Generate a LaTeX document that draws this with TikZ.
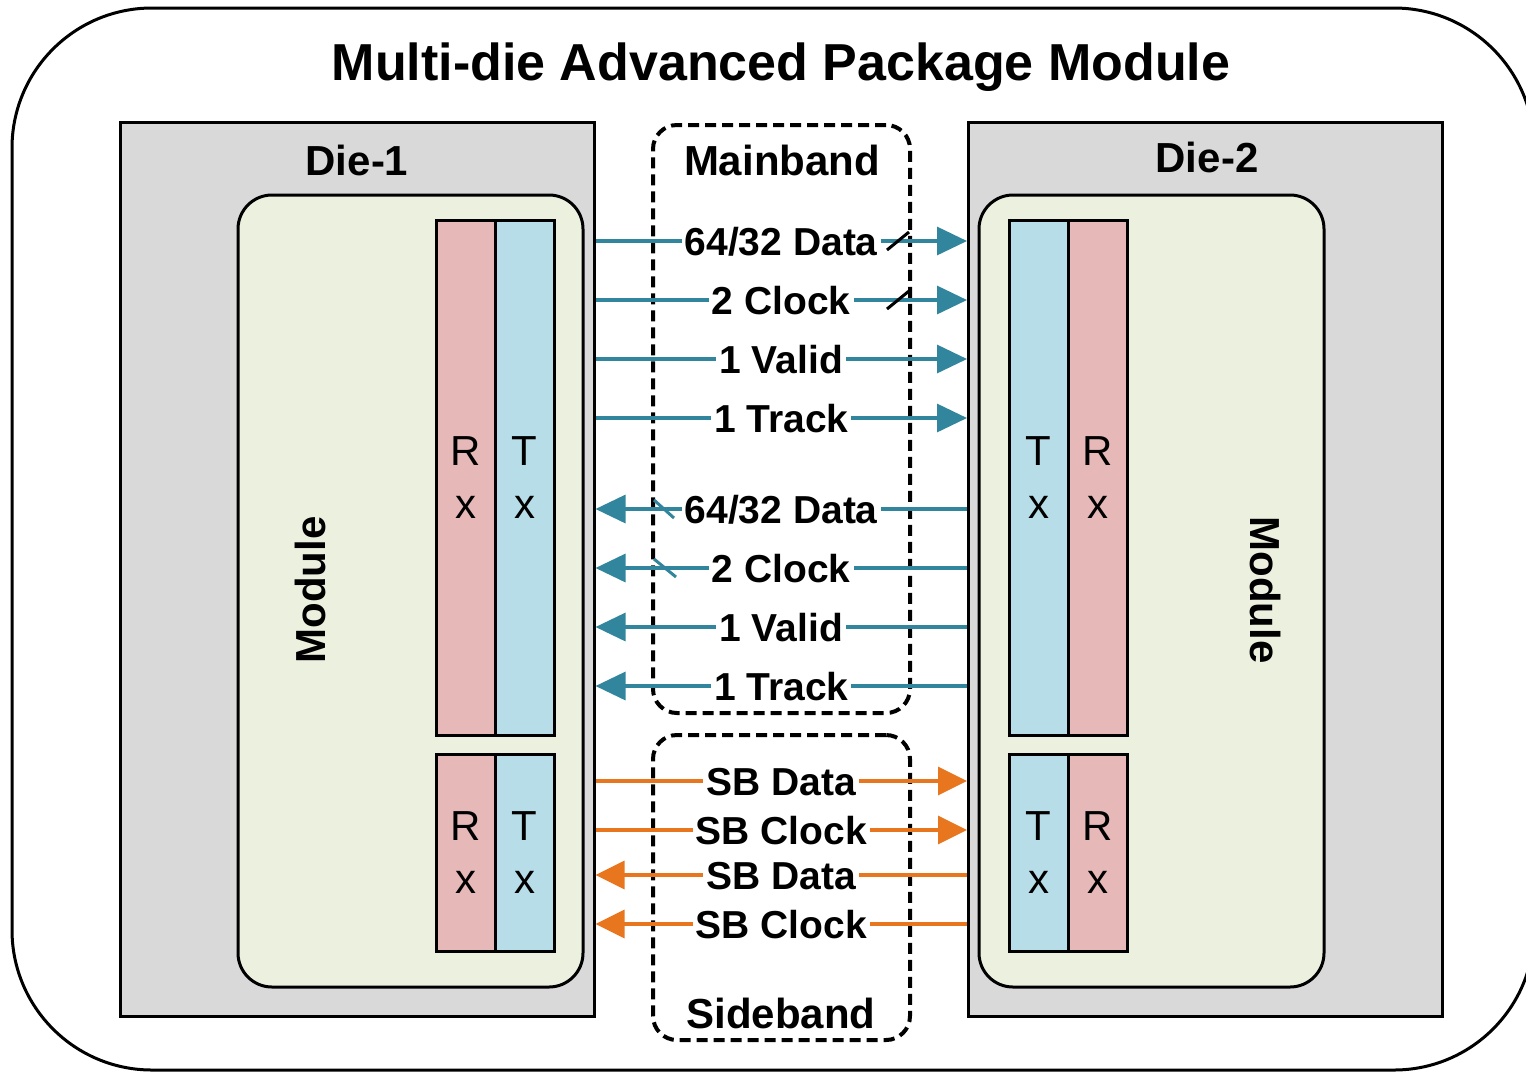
\documentclass[tikz,border=0pt]{standalone}
\usepackage{fontspec}
\setmainfont{Liberation Sans}
\usetikzlibrary{arrows.meta}
\definecolor{dieg}{HTML}{D9D9D9}
\definecolor{modg}{HTML}{EBF1DE}
\definecolor{rxc}{HTML}{E6B9B8}
\definecolor{txc}{HTML}{B7DEE8}
\definecolor{tealc}{HTML}{31859C}
\definecolor{orangec}{HTML}{E8761E}
\begin{document}
\begin{tikzpicture}[x=0.5pt,y=-0.5pt,
  diebox/.style={draw=black,line width=1.5pt,fill=dieg,minimum width=237pt,minimum height=447pt,inner sep=0pt},
  modbox/.style={draw=black,line width=1.5pt,fill=modg,rounded corners=17pt,minimum width=172.5pt,minimum height=396pt,inner sep=0pt},
  rxbox/.style={draw=black,line width=1.5pt,fill=rxc,minimum width=29.5pt,inner sep=0pt,align=center,font=\fontsize{21}{26.5}\selectfont},
  txbox/.style={rxbox,fill=txc},
  bandbox/.style={draw=black,line width=2pt,dash pattern=on 5.5pt off 3pt,rounded corners=12pt,minimum width=128.5pt,inner sep=0pt},
  hdr/.style={font=\bfseries\fontsize{21}{25}\selectfont,inner sep=0pt},
  lbl/.style={font=\bfseries\fontsize{19.5}{22}\selectfont,fill=white,inner xsep=1.5pt,inner ysep=0pt,text height=14pt,text depth=0pt},
  tarrow/.style={draw=tealc,line width=1.6pt,-{Triangle[length=15pt,width=14pt]}},
  oarrow/.style={draw=orangec,line width=1.6pt,-{Triangle[length=14.5pt,width=14pt]}}
]
\useasboundingbox (0,0) rectangle (1526,1073);
% outer package
\draw[line width=1.5pt,rounded corners=70pt] (12,8) rectangle (1534,1070);
\node[inner sep=0pt,font=\bfseries\fontsize{26}{30}\selectfont,text height=18.6pt,text depth=0pt] (title) at (781,62) {Multi-die Advanced Package Module};
% dies
\node[diebox] (die1) at (357,569) {};
\node[diebox] (die2) at (1205.5,569) {};
\node[hdr] (d1lbl) at (357,160) {Die-1};
\node[hdr] (d2lbl) at (1207,157) {Die-2};
% modules
\node[modbox] (mod1) at (410.5,591) {};
\node[modbox] (mod2) at (1151.5,591) {};
\node[hdr,rotate=90] (mod1lbl) at (310,590) {Module};
\node[hdr,rotate=-90] (mod2lbl) at (1265,590) {Module};
% Rx/Tx die 1
\node[rxbox,minimum height=257.5pt] (rx1u) at (465.5,477.5) {R\\x};
\node[txbox,minimum height=257.5pt] (tx1u) at (524.5,477.5) {T\\x};
\node[rxbox,minimum height=98.5pt] (rx1l) at (465.5,852.5) {R\\x};
\node[txbox,minimum height=98.5pt] (tx1l) at (524.5,852.5) {T\\x};
% Rx/Tx die 2
\node[txbox,minimum height=257.5pt] (tx2u) at (1038.5,477.5) {T\\x};
\node[rxbox,minimum height=257.5pt] (rx2u) at (1097.5,477.5) {R\\x};
\node[txbox,minimum height=98.5pt] (tx2l) at (1038.5,852.5) {T\\x};
\node[rxbox,minimum height=98.5pt] (rx2l) at (1097.5,852.5) {R\\x};
% bands
\node[bandbox,minimum height=294pt] (main) at (781.5,419) {};
\node[bandbox,minimum height=152.5pt] (side) at (781.5,887.5) {};
\node[hdr] (mainlbl) at (782,160) {Mainband};
\node[hdr] (sidelbl) at (781,1013) {Sideband};
% mainband arrows die1 -> die2
\draw[tarrow] (die1.east |- 0,241) -- node[lbl] {64/32 Data} (die2.west |- 0,241);
\draw[tarrow] (die1.east |- 0,300) -- node[lbl] {2 Clock} (die2.west |- 0,300);
\draw[tarrow] (die1.east |- 0,359) -- node[lbl] {1 Valid} (die2.west |- 0,359);
\draw[tarrow] (die1.east |- 0,418) -- node[lbl] {1 Track} (die2.west |- 0,418);
% mainband arrows die2 -> die1
\draw[tarrow] (die2.west |- 0,509) -- node[lbl] {64/32 Data} (die1.east |- 0,509);
\draw[tarrow] (die2.west |- 0,568) -- node[lbl] {2 Clock} (die1.east |- 0,568);
\draw[tarrow] (die2.west |- 0,627) -- node[lbl] {1 Valid} (die1.east |- 0,627);
\draw[tarrow] (die2.west |- 0,686) -- node[lbl] {1 Track} (die1.east |- 0,686);
% bus slashes
\draw[line width=1.5pt,black] (887,250) -- (909,232);
\draw[line width=1.5pt,black] (887,309) -- (909,291);
\draw[line width=1.5pt,tealc] (654,500) -- (674,518);
\draw[line width=1.5pt,tealc] (654,559) -- (676,577);
% sideband arrows
\draw[oarrow] (die1.east |- 0,781) -- node[lbl] {SB Data} (die2.west |- 0,781);
\draw[oarrow] (die1.east |- 0,830) -- node[lbl] {SB Clock} (die2.west |- 0,830);
\draw[oarrow] (die2.west |- 0,875) -- node[lbl] {SB Data} (die1.east |- 0,875);
\draw[oarrow] (die2.west |- 0,924) -- node[lbl] {SB Clock} (die1.east |- 0,924);
\end{tikzpicture}
\end{document}
